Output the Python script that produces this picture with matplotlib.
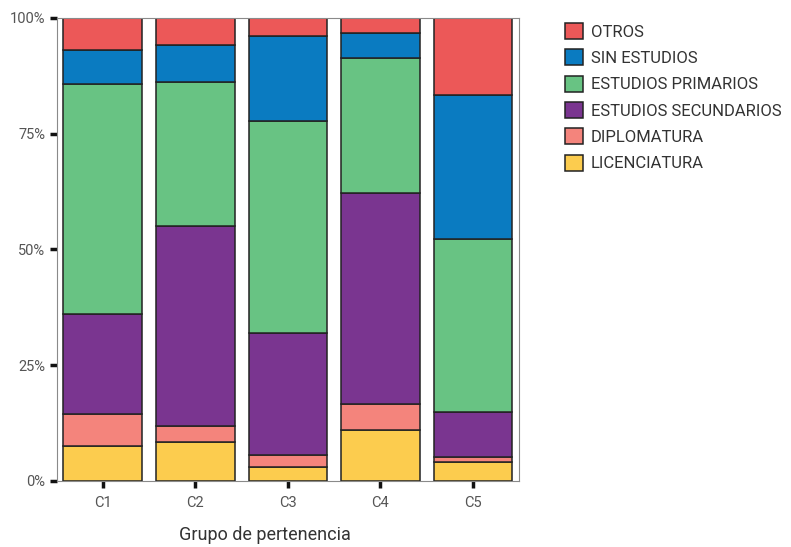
import numpy as np
import matplotlib; matplotlib.use('Agg')
import matplotlib.pyplot as plt
from matplotlib.patches import Patch
from matplotlib.ticker import PercentFormatter

plt.rcParams['font.family'] = ['Roboto', 'DejaVu Sans']

grupos = ["C1", "C2", "C3", "C4", "C5"]
# stacked from bottom to top (percent)
licenciatura = [7.6, 8.4, 3.1, 11.1, 4.2]
diplomatura = [6.9, 3.4, 2.5, 5.5, 0.9]
secundarios = [21.5, 43.3, 26.3, 45.6, 9.7]
primarios = [49.8, 31.0, 45.9, 29.1, 37.4]
sin_estudios = [7.3, 8.0, 18.4, 5.5, 31.1]
otros = [6.9, 5.9, 3.8, 3.2, 16.7]

series = [("LICENCIATURA", licenciatura, "#FCCC4E"),
          ("DIPLOMATURA", diplomatura, "#F4847C"),
          ("ESTUDIOS SECUNDARIOS", secundarios, "#7A3590"),
          ("ESTUDIOS PRIMARIOS", primarios, "#68C383"),
          ("SIN ESTUDIOS", sin_estudios, "#0A7BC1"),
          ("OTROS", otros, "#EC5858")]

fig = plt.figure(figsize=(7.91, 5.47), dpi=100)
ax = fig.add_axes([0.0725, 0.1207, 0.584, 0.8465])

x = np.arange(len(grupos))
bottom = np.zeros(len(grupos))
for name, vals, col in series:
    v = np.array(vals) / 100
    ax.bar(x, v, 0.85, bottom=bottom, color=col, edgecolor="#222222", linewidth=1.1, label=name)
    bottom += v

ax.set_xlim(-0.49, 4.5)
ax.set_ylim(0, 1)
ax.set_xticks(x)
ax.set_xticklabels(grupos)
ax.set_yticks([0, 0.25, 0.5, 0.75, 1.0])
ax.yaxis.set_major_formatter(PercentFormatter(1.0, decimals=0))
ax.tick_params(length=5, width=2.5, color="#111111", labelsize=10.5, labelcolor="#555555")
ax.tick_params(axis='x', pad=6)
for s in ax.spines.values():
    s.set_color("#8a8a8a"); s.set_linewidth(0.8)
ax.set_xlabel("Grupo de pertenencia", fontsize=13, color="#333333")
ax.xaxis.set_label_coords(0.45, -0.098)

handles = [Patch(facecolor=c, edgecolor="#222222", linewidth=1.1, label=n) for n, _, c in series[::-1]]
fig.legend(handles=handles, loc="upper left", bbox_to_anchor=(0.706, 0.97), frameon=False,
           fontsize=12, handlelength=1.1, handleheight=1.1, labelspacing=0.58,
           handletextpad=0.45, borderaxespad=0, labelcolor="#333333")

plt.savefig("out.png", dpi=100)
